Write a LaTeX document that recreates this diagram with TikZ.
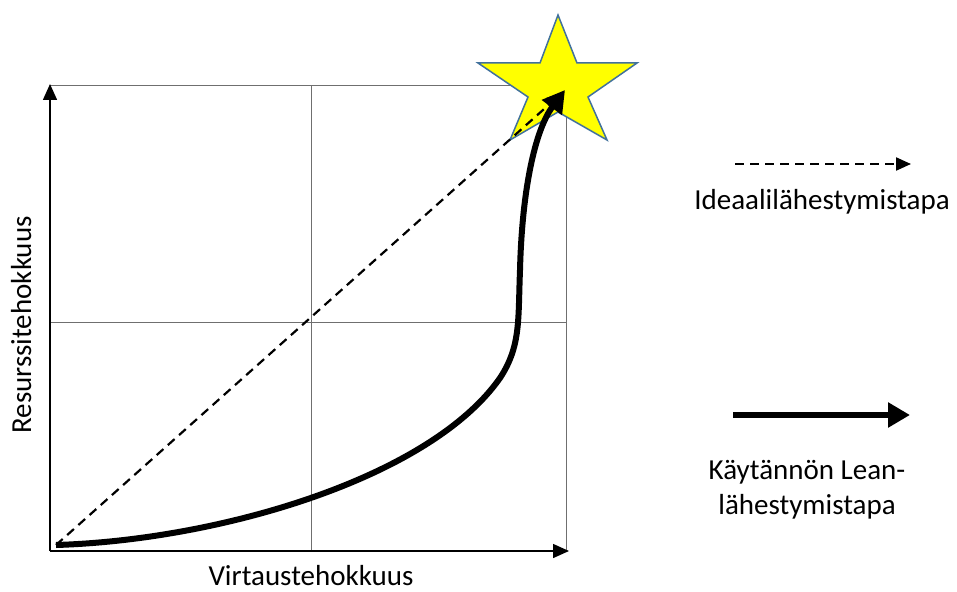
\documentclass[tikz,border=0pt]{standalone}
\usepackage{fontspec}
\setmainfont{Carlito}
\usetikzlibrary{arrows.meta}
\definecolor{staryellow}{HTML}{FFFF00}
\definecolor{starblue}{HTML}{41719C}
\definecolor{gridgray}{HTML}{6F6F6F}
\tikzstyle{axis} = [line width=1.5pt, -{Triangle[length=16pt,width=14pt]}]
\tikzstyle{gridline} = [line width=1pt, gridgray]
\tikzstyle{ideal} = [line width=2.2pt, dash pattern=on 9pt off 6pt, -{Triangle[length=15pt,width=13pt]}]
\tikzstyle{lean} = [line width=6pt, -{Triangle[length=22pt,width=24pt]}]
\tikzstyle{label} = [font=\fontsize{29}{35}\selectfont]

\begin{document}
\begin{tikzpicture}[x=1pt,y=-1pt]
    \useasboundingbox (0,0) rectangle (957,591);
    \coordinate (ori) at (50,551);
    \coordinate (ytop) at (50,84);
    \coordinate (xend) at (569,551);
    \coordinate (start) at (56,545);
    \coordinate (goal) at (565,90);
    % quadrants
    \draw[gridline] (50,86) -- (566,86) -- (566,551);
    \draw[gridline] (311,86) -- (311,551);
    \draw[gridline] (50,322) -- (566,322);
    % star
    \draw[starblue, line width=1.5pt, fill=staryellow, line join=miter]
        (558,15) -- (577,63) -- (637,63) -- (588,97) -- (607,140)
        -- (558,112) -- (510,140) -- (528,97) -- (478,63) -- (540,63) -- cycle;
    % axes
    \draw[axis] (ori) -- (ytop);
    \draw[axis] (ori) -- (xend);
    \node[label, rotate=90, anchor=base] (ylab) at (31,325) {Resurssitehokkuus};
    \node[label, anchor=base] (xlab) at (311,585) {Virtaustehokkuus};
    % paths
    \draw[ideal] (start) -- (562,93);
    \draw[lean] (start) .. controls (220,540) and (430,478) .. (500,378)
        .. controls (521,346) and (518,320) .. (520,270)
        .. controls (522,190) and (535,130) .. (goal);
    % legend
    \coordinate (ia) at (735,164);
    \coordinate (ib) at (911,164);
    \coordinate (la) at (733,415);
    \coordinate (lb) at (910,415);
    \draw[ideal] (ia) -- (ib);
    \draw[lean] (la) -- (lb);
    \node[label, anchor=base] (ideallab) at (822,209) {Ideaalilähestymistapa};
    \node[label, anchor=north, align=center] (leanlab) at (807,457) {Käytännön Lean-\\lähestymistapa};
\end{tikzpicture}
\end{document}
